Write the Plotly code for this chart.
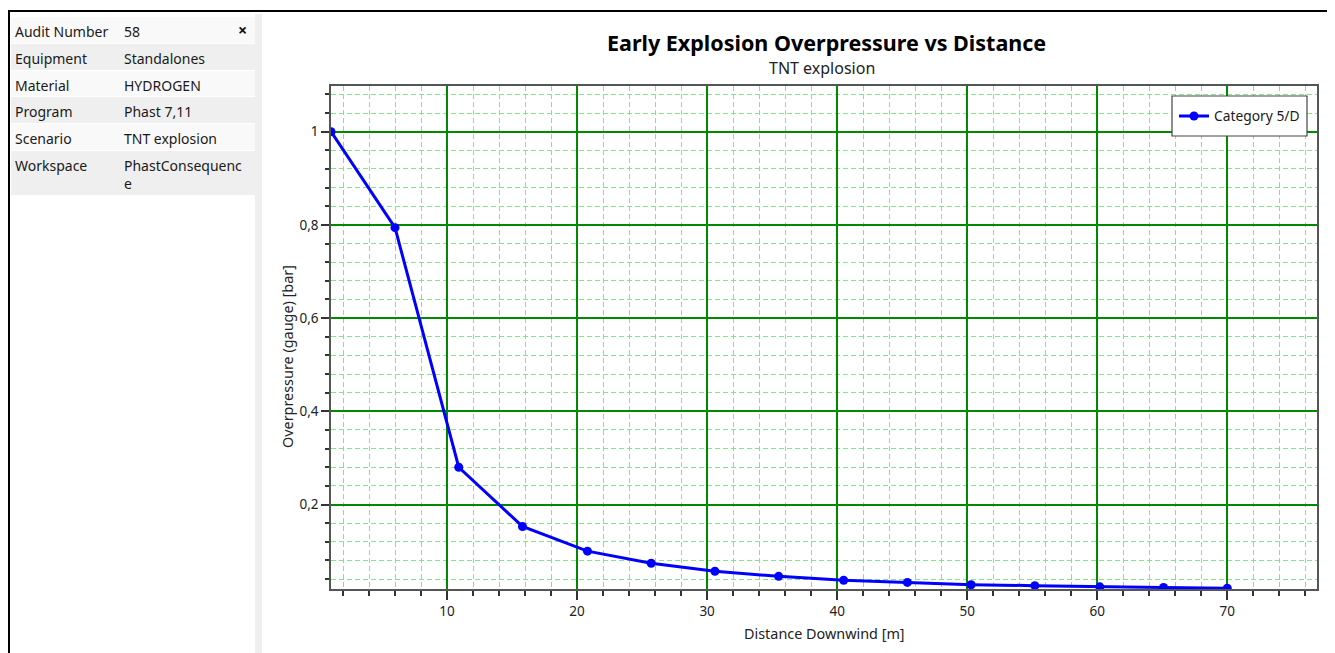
import plotly.graph_objects as go

# ---------------- data ----------------
distance_m = [1.08, 6.0, 10.9, 15.8, 20.8, 25.7, 30.6, 35.5, 40.5, 45.4, 50.3, 55.2, 60.2, 65.1, 70.0]
overpressure_bar = [1.0, 0.794, 0.280, 0.153, 0.100, 0.074, 0.057, 0.046, 0.0375, 0.033, 0.028, 0.026, 0.0235, 0.022, 0.0205]
series_name = "Category 5/D"

info_labels = ["Audit Number", "Equipment", "Material", "Program", "Scenario", "Workspace"]
info_values = ["58", "Standalones", "HYDROGEN", "Phast 7,11", "TNT explosion", "PhastConsequenc<br>e"]

title_text = "Early Explosion Overpressure vs Distance"
subtitle_text = "TNT explosion"
x_title = "Distance Downwind [m]"
y_title = "Overpressure (gauge) [bar]"

# minor tick positions (axis divisions only, excluding the major ones)
x_minor_ticks = [v for v in range(0, 80, 2) if v % 10 != 0]
y_minor_ticks = [round(k * 0.04, 2) for k in range(0, 28) if k % 5 != 0]

# axis ranges
x_range = [1.077, 76.9]
y_range = [0.0188, 1.098]

# ---------------- geometry helpers ----------------
OFF = 8                      # page body margin of the html page
W, H = 1335 - OFF, 653 - OFF  # figure size
L, R, T, B = 331, 1317, 86, 589  # plot area in screen pixels


def px(x):
    return (x - L) / (R - L)


def py(y):
    return (B - y) / (B - T)


FONT = "Noto Sans, Open Sans, DejaVu Sans, sans-serif"

fig = go.Figure()
fig.add_trace(go.Scatter(
    x=distance_m, y=overpressure_bar, mode="lines+markers", name=series_name,
    line=dict(color="#0000FF", width=3),
    marker=dict(color="#0000FF", size=9, symbol="circle"),
))

shapes = []
annotations = []

# outer frame lines
shapes.append(dict(type="line", xref="paper", yref="paper", x0=px(8), x1=px(1330), y0=py(11), y1=py(11),
                   line=dict(color="#000000", width=2)))
shapes.append(dict(type="line", xref="paper", yref="paper", x0=px(9), x1=px(9), y0=py(11), y1=py(660),
                   line=dict(color="#000000", width=2)))
shapes.append(dict(type="line", xref="paper", yref="paper", x0=px(1330), x1=px(1330), y0=py(11), y1=py(660),
                   line=dict(color="#000000", width=2)))
# gray separator strip
shapes.append(dict(type="rect", xref="paper", yref="paper", x0=px(255), x1=px(262), y0=py(14), y1=py(660),
                   fillcolor="#efefef", line=dict(width=0), layer="below"))

# info panel rows
row_tops = [17, 44, 71, 97, 124, 151]
row_bots = [43, 70, 96, 123, 150, 195]
for i, (lab, val) in enumerate(zip(info_labels, info_values)):
    fill = "#f9f9f9" if i % 2 == 0 else "#efefef"
    shapes.append(dict(type="rect", xref="paper", yref="paper", x0=px(11), x1=px(255),
                       y0=py(row_bots[i]), y1=py(row_tops[i]), fillcolor=fill, line=dict(width=0), layer="below"))
    annotations.append(dict(xref="paper", yref="paper", x=px(13), y=py(row_tops[i] + 3), xanchor="left",
                            yanchor="top", text=lab, showarrow=False, align="left",
                            font=dict(family=FONT, size=14, color="#1a1a1a")))
    annotations.append(dict(xref="paper", yref="paper", x=px(122), y=py(row_tops[i] + 3), xanchor="left",
                            yanchor="top", text=val, showarrow=False, align="left",
                            font=dict(family=FONT, size=14, color="#1a1a1a")))
annotations.append(dict(xref="paper", yref="paper", x=px(242), y=py(30), xanchor="center", yanchor="middle",
                        text="<b>×</b>", showarrow=False, font=dict(family=FONT, size=16, color="#111111")))

# titles
annotations.append(dict(xref="paper", yref="paper", x=px(826), y=py(42), xanchor="center", yanchor="middle",
                        text="<b>" + title_text + "</b>", showarrow=False,
                        font=dict(family=FONT, size=21.5, color="#000000")))
annotations.append(dict(xref="paper", yref="paper", x=px(822), y=py(68), xanchor="center", yanchor="middle",
                        text=subtitle_text, showarrow=False, font=dict(family=FONT, size=16, color="#222222")))
annotations.append(dict(xref="paper", yref="paper", x=px(824), y=py(633), xanchor="center", yanchor="middle",
                        text=x_title, showarrow=False, font=dict(family=FONT, size=14.4, color="#222222")))
annotations.append(dict(xref="paper", yref="paper", x=px(287), y=py(357), xanchor="center", yanchor="middle",
                        text=y_title, textangle=-90, showarrow=False,
                        font=dict(family=FONT, size=14.4, color="#222222")))

# legend frame
shapes.append(dict(type="rect", xref="paper", yref="paper", x0=px(1172), x1=px(1307), y0=py(136), y1=py(96),
                   fillcolor="white", line=dict(color="#444444", width=1.2), layer="above"))

axis_common = dict(
    showline=True, mirror=True, linecolor="#555555", linewidth=1.5,
    showgrid=True, gridcolor="#008a00", gridwidth=1.5, zeroline=False,
    ticks="outside", tickcolor="#333333", tickwidth=1.5,
    tickfont=dict(family=FONT, size=13.5, color="#222222"),
)

fig.update_layout(
    width=W, height=H,
    margin=dict(l=L - OFF, r=1335 - R, t=T - OFF, b=653 - B, autoexpand=False),
    paper_bgcolor="white", plot_bgcolor="white",
    separators=",.",
    showlegend=True,
    legend=dict(x=px(1174), y=py(116), xanchor="left", yanchor="middle",
                bgcolor="rgba(0,0,0,0)", borderwidth=0,
                font=dict(family=FONT, size=13.8, color="#1a1a1a")),
    shapes=shapes, annotations=annotations,
    xaxis=dict(axis_common, range=x_range, tick0=0, dtick=10, ticklen=9,
               minor=dict(tickmode="array", tickvals=x_minor_ticks, ticks="outside", ticklen=5,
                          tickcolor="#333333", showgrid=True, gridcolor="#80e880",
                          griddash="5px,3px", gridwidth=1)),
    yaxis=dict(axis_common, range=y_range, tick0=0, dtick=0.2, ticklen=8,
               minor=dict(tickmode="array", tickvals=y_minor_ticks, ticks="outside", ticklen=4,
                          tickcolor="#333333", showgrid=True, gridcolor="#80e880",
                          griddash="5px,3px", gridwidth=1)),
)

fig.write_html("out.html")
